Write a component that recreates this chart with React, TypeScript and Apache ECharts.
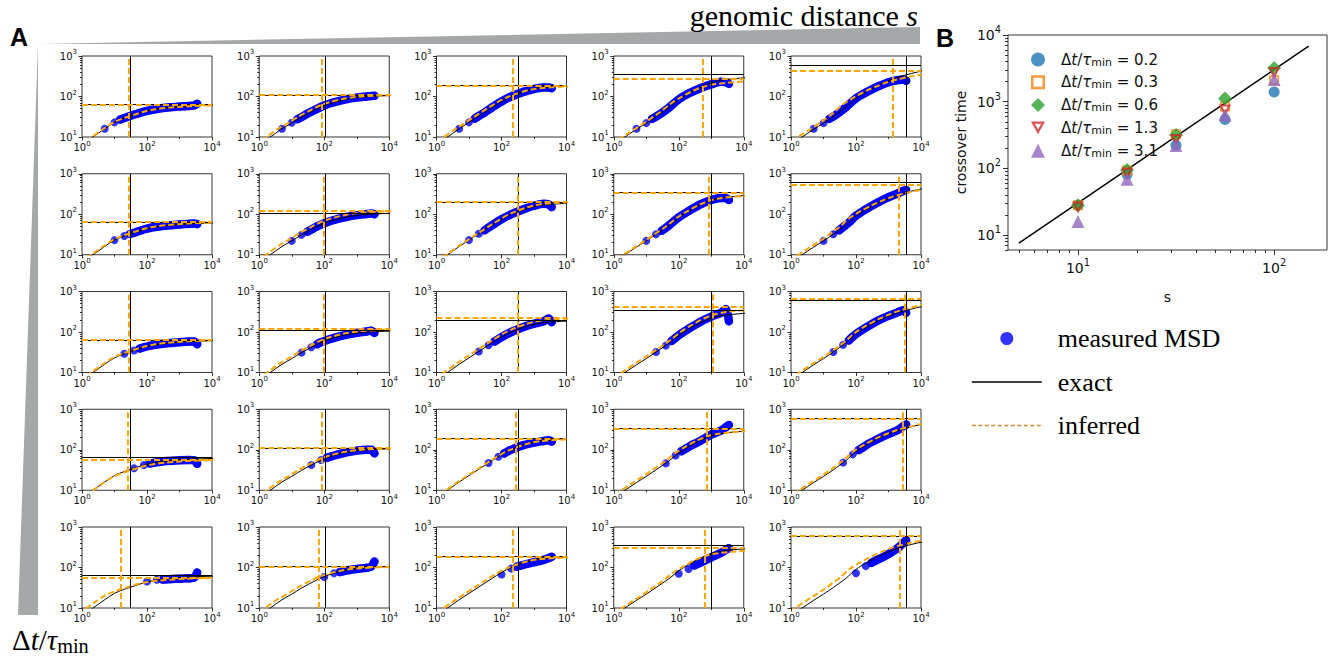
import React, { useEffect, useRef } from 'react';
import * as echarts from 'echarts';

// ---------------- data ----------------
// genomic distances (columns) and Δt/τmin values (rows)
const genomicS = [10, 17.8, 31.6, 56.2, 100];
const dtValues = ['0.2', '0.3', '0.6', '1.3', '3.1'];

// exact MSD curves per column, sampled at curveT
const curveT = [0.3, 1, 2, 5, 10, 20, 50, 100, 200, 500, 1000, 2000, 5000, 10000, 30000, 100000];
const exactMSD = [
  [3.5, 6.5, 9.5, 16, 23, 29, 37, 44, 49, 53.5, 56, 58, 60, 61, 62, 63],
  [3.5, 6.5, 9.5, 16, 22, 31, 46, 60, 72, 86, 94, 99, 103, 105, 106, 107],
  [3.5, 6.5, 9.5, 16, 23, 33, 53, 75, 100, 132, 155, 170, 180, 186, 190, 193],
  [3.5, 6.5, 9.5, 15.5, 22, 32, 53, 83, 118, 175, 220, 252, 275, 288, 308, 325],
  [3.5, 6.5, 9.5, 15.5, 22, 32, 55, 90, 128, 190, 242, 300, 370, 420, 490, 545],
];
const exactTau = [31, 104, 320, 1000, 3400];
const exactPlateau = [64, 108, 195, 345, 600];

// inferred crossover time and plateau [row][col]
const inferredTau = [
  [28, 82, 222, 540, 1400],
  [28, 94, 325, 850, 2100],
  [28, 95, 318, 1120, 3200],
  [26, 84, 268, 740, 2700],
  [16, 69, 220, 630, 2150],
];
const inferredPlateau = [
  [63, 110, 182, 270, 436],
  [65, 121, 207, 335, 530],
  [65, 117, 224, 414, 645],
  [58, 110, 188, 335, 590],
  [57, 105, 183, 300, 610],
];

// measured MSD samples: times per row, values [row][col]
const measuredT = [
  [5, 10, 15, 20, 30, 50, 100, 200, 500, 1000, 2000, 2800, 3500],
  [10, 20, 30, 40, 60, 100, 200, 500, 1000, 2000, 2800, 3500],
  [20, 40, 60, 80, 120, 200, 500, 1000, 2000, 2800, 3500],
  [40, 80, 120, 160, 240, 400, 1000, 2000, 2800, 3500],
  [100, 200, 300, 400, 600, 1000, 2000, 2800, 3500],
];
const measuredMSD = [
  [
    [16, 23, 27, 29.5, 33, 37.5, 44, 49, 54, 56.5, 58.5, 60, 66],
    [16, 22.5, 27.5, 31, 37.5, 46, 60, 72, 86, 94, 100, 103, 104],
    [16, 23, 28.5, 33, 40, 53, 75, 100, 132, 153, 168, 166, 160],
    [16, 22, 28, 32, 39, 53, 85, 118, 165, 200, 230, 226, 205],
    [16, 22, 28, 32, 40, 55, 90, 125, 180, 225, 255, 262, 245],
  ],
  [
    [23, 29, 32.5, 35, 39, 44, 49, 53.5, 56, 58, 59, 57],
    [22, 31, 37, 42, 50, 60, 72, 86, 95, 101, 104, 100],
    [23, 33, 40, 47, 58, 75, 100, 135, 162, 182, 175, 150],
    [22, 32, 39, 46, 60, 84, 120, 180, 225, 252, 250, 225],
    [22, 32, 40, 48, 62, 92, 132, 200, 265, 330, 375, 395],
  ],
  [
    [29, 35, 39, 42, 45.5, 49, 53.5, 56, 58, 58, 50],
    [31, 42, 50, 56, 63, 72, 86, 95, 103, 108, 95],
    [33, 47, 58, 67, 81, 100, 135, 160, 185, 215, 175],
    [32, 46, 60, 72, 92, 120, 185, 240, 300, 370, 185],
    [32, 48, 62, 77, 98, 128, 195, 250, 310, 345, 300],
  ],
  [
    [35, 42, 45.5, 47.5, 50, 52.5, 55, 56, 55, 45],
    [42, 56, 63, 68, 75, 83, 95, 100, 100, 82],
    [47, 67, 81, 92, 107, 125, 150, 165, 172, 160],
    [46, 72, 92, 105, 128, 155, 237, 300, 360, 410],
    [48, 77, 98, 113, 140, 172, 245, 310, 380, 420],
  ],
  [
    [45, 50, 50.5, 51, 52, 53, 54, 56, 75],
    [58, 72, 77, 82, 87, 92, 98, 106, 140],
    [67, 94, 105, 112, 122, 135, 155, 170, 185],
    [70, 92, 112, 125, 145, 178, 230, 275, 300],
    [72, 108, 130, 148, 172, 215, 310, 400, 470],
  ],
];

// exact crossover scaling line in panel B
const crossoverLineS = [5, 150];
const crossoverLineT = [7.6, 6800];

// tick values
const smallXMajor = [1, 100, 10000];
const smallXMinor = [10, 1000];
const smallYMajor = [10, 100, 1000];
const smallYMinor = [20, 30, 40, 50, 60, 70, 80, 90, 200, 300, 400, 500, 600, 700, 800, 900];
const bXMajor = [10, 100];
const bXMinor = [5, 6, 7, 8, 9, 20, 30, 40, 50, 60, 70, 80, 90];
const bYMajor = [10, 100, 1000, 10000];
const bYMinor = [6, 7, 8, 9, 20, 30, 40, 50, 60, 70, 80, 90, 200, 300, 400, 500, 600, 700, 800, 900,
  2000, 3000, 4000, 5000, 6000, 7000, 8000, 9000];

// ---------------- helpers ----------------
const pow10Rich = (v: number) => '{b|10}{s|' + Math.round(Math.log10(v)) + '}';

const bNames = dtValues.map((v) => 'dt=' + v);
const bRichLabel: Record<string, string> = {};
dtValues.forEach((v, i) => {
  bRichLabel[bNames[i]] = `{r|Δ}{i|t}{r|/}{i|τ}{sub|min}{r| = ${v}}`;
});

const squarePath = 'path://M0,0H10V10H0Z M1.8,1.8V8.2H8.2V1.8Z';
const downTriPath = 'path://M0,0L10,0L5,9Z M2.72,1.6L5,5.7L7.28,1.6Z';
const bMarkers = [
  { symbol: 'circle', size: 11, color: '#1f77b4' },
  { symbol: squarePath, size: 10, color: '#ff7f0e' },
  { symbol: 'diamond', size: 14, color: '#2ca02c' },
  { symbol: downTriPath, size: 12, color: '#d62728' },
  { symbol: 'triangle', size: 13, color: '#9467bd' },
];

function tickRich(fs: number) {
  return {
    b: { fontFamily: 'DejaVu Sans', fontSize: fs, lineHeight: fs * 1.5, color: '#111' },
    s: { fontFamily: 'DejaVu Sans', fontSize: fs * 0.7, lineHeight: fs * 0.75, verticalAlign: 'top', color: '#111' },
  };
}

function logAxis(
  gridIndex: number, min: number, max: number, ticks: number[], tickLen: number,
  position: string, label: any | null, extra: any = {}
) {
  return {
    type: 'log', logBase: 10, gridIndex, min, max, position,
    axisLine: { show: false },
    splitLine: { show: false },
    minorTick: { show: false },
    minorSplitLine: { show: false },
    axisTick: { show: true, length: tickLen, customValues: ticks, lineStyle: { color: '#000', width: 0.8 } },
    axisLabel: label ? { show: true, customValues: ticks, formatter: pow10Rich, ...label } : { show: false },
    ...extra,
  };
}

function buildOption() {
  const grid: any[] = [];
  const xAxis: any[] = [];
  const yAxis: any[] = [];
  const series: any[] = [];
  const smallRich = tickRich(10);

  for (let r = 0; r < 5; r++) {
    for (let c = 0; c < 5; c++) {
      const g = r * 5 + c;
      grid.push({
        left: 82 + c * 177.25, top: 56 + r * 117.75, width: 130, height: 81,
        show: true, borderColor: '#000', borderWidth: 0.8, backgroundColor: 'transparent',
      });
      xAxis.push(logAxis(g, 1, 10000, smallXMajor, 3.5, 'bottom', { rich: smallRich, margin: 3 }));
      xAxis.push(logAxis(g, 1, 10000, smallXMinor, 2, 'bottom', null));
      yAxis.push(logAxis(g, 10, 1000, smallYMajor, 3.5, 'left', { rich: smallRich, margin: 5 }));
      yAxis.push(logAxis(g, 10, 1000, smallYMinor, 2, 'left', null));
      const xi = 2 * g;
      const yi = 2 * g;
      const T = measuredT[r];
      const M = measuredMSD[r][c];
      const te = exactTau[c], pe = exactPlateau[c];
      const ti = inferredTau[r][c], pi = inferredPlateau[r][c];

      series.push({
        type: 'line', name: 'measured band', xAxisIndex: xi, yAxisIndex: yi,
        data: T.slice(2).map((t, k) => [t, M[k + 2]]),
        symbol: 'none', smooth: 0.3, silent: true, z: 2,
        lineStyle: { color: '#0000ff', width: 8.5, cap: 'round', join: 'round' },
      });
      series.push({
        type: 'scatter', name: 'measured MSD', xAxisIndex: xi, yAxisIndex: yi,
        data: T.map((t, k) => [t, M[k]]),
        symbol: 'circle', symbolSize: 8, silent: true, z: 2,
        itemStyle: { color: '#0000ff' },
      });
      series.push({
        type: 'line', name: 'exact', xAxisIndex: xi, yAxisIndex: yi,
        data: curveT.map((t, k) => [t, exactMSD[c][k]]),
        symbol: 'none', smooth: 0.3, silent: true, z: 3,
        lineStyle: { color: '#000', width: 1 },
        markLine: {
          silent: true, symbol: ['none', 'none'], label: { show: false },
          lineStyle: { color: '#000', width: 1, type: 'solid' },
          data: [{ yAxis: pe }, { xAxis: te }],
        },
      });
      series.push({
        type: 'line', name: 'inferred', xAxisIndex: xi, yAxisIndex: yi,
        data: curveT.map((t, k) => [(t * ti) / te, (exactMSD[c][k] * pi) / pe]),
        symbol: 'none', smooth: 0.3, silent: true, z: 4,
        lineStyle: { color: '#ffa500', width: 2, type: [6, 3] },
        markLine: {
          silent: true, symbol: ['none', 'none'], label: { show: false },
          lineStyle: { color: '#ffa500', width: 2, type: [6, 3] },
          data: [{ yAxis: pi }, { xAxis: ti }],
        },
      });
    }
  }

  // ----- panel B -----
  const gb = 25;
  grid.push({
    left: 1008, top: 35, width: 319, height: 215,
    show: true, borderColor: '#000', borderWidth: 0.8, backgroundColor: 'transparent',
  });
  const bRich = tickRich(14);
  const nameStyle = { fontFamily: 'DejaVu Sans', fontSize: 14, color: '#111' };
  xAxis.push(logAxis(gb, 4.4, 186, bXMajor, 5, 'bottom', { rich: bRich, margin: 7 }, {
    name: 's', nameLocation: 'middle', nameGap: 40, nameTextStyle: nameStyle,
  }));
  xAxis.push(logAxis(gb, 4.4, 186, bXMinor, 3, 'bottom', null));
  yAxis.push(logAxis(gb, 6, 10000, bYMajor, 5, 'left', { rich: bRich, margin: 7 }, {
    name: 'crossover time', nameLocation: 'middle', nameGap: 40, nameTextStyle: nameStyle,
  }));
  yAxis.push(logAxis(gb, 6, 10000, bYMinor, 3, 'left', null));

  series.push({
    type: 'line', name: 'exact crossover', xAxisIndex: 50, yAxisIndex: 50,
    data: crossoverLineS.map((s, k) => [s, crossoverLineT[k]]),
    symbol: 'none', silent: true, z: 2,
    lineStyle: { color: '#000', width: 1.5 },
  });
  bMarkers.forEach((m, r) => {
    series.push({
      type: 'scatter', name: bNames[r], xAxisIndex: 50, yAxisIndex: 50,
      data: genomicS.map((s, k) => [s, inferredTau[r][k]]),
      symbol: m.symbol, symbolSize: m.size, silent: true, z: 3 + r,
      itemStyle: { color: m.color },
    });
  });

  const richB = {
    r: { fontFamily: 'DejaVu Sans', fontSize: 15, lineHeight: 16, color: '#111' },
    i: { fontFamily: 'DejaVu Sans', fontStyle: 'italic', fontSize: 15, lineHeight: 16, color: '#111' },
    sub: { fontFamily: 'DejaVu Sans', fontSize: 11, lineHeight: 10, verticalAlign: 'bottom', color: '#111' },
  };

  const serif = (fs: number) => ({
    r: { fontFamily: 'Liberation Serif', fontSize: fs, lineHeight: fs * 1.1, color: '#000' },
    i: { fontFamily: 'Liberation Serif', fontStyle: 'italic', fontSize: fs, lineHeight: fs * 1.1, color: '#000' },
    sub: { fontFamily: 'Liberation Serif', fontSize: fs * 0.7, lineHeight: fs * 0.7, verticalAlign: 'bottom', color: '#000' },
  });

  return {
    animation: false,
    backgroundColor: '#fff',
    grid, xAxis, yAxis, series,
    legend: [
      {
        data: bNames, orient: 'vertical', left: 1026, top: 47,
        itemWidth: 14, itemHeight: 14, itemGap: 7.3, selectedMode: false,
        formatter: (name: string) => bRichLabel[name],
        textStyle: { rich: richB, padding: [0, 0, 0, 11], fontFamily: 'DejaVu Sans', fontSize: 15 },
      },
      {
        data: [
          { name: 'measured MSD' },
          { name: 'exact', lineStyle: { width: 1.5, color: '#000' }, itemStyle: { opacity: 0 } },
          { name: 'inferred', lineStyle: { width: 1.6, color: '#d4892b', type: [4, 2.5] }, itemStyle: { opacity: 0 } },
        ],
        orient: 'vertical', left: 966, top: 320,
        itemWidth: 70, itemHeight: 13, itemGap: 16.5, selectedMode: false,
        textStyle: { fontFamily: 'Liberation Serif', fontSize: 26, lineHeight: 27, color: '#000', padding: [0, 0, 0, 11] },
      },
    ],
    graphic: [
      { type: 'polygon', silent: true, shape: { points: [[40, 44], [920, 44], [920, 27]] }, style: { fill: '#a4a8a8' } },
      { type: 'polygon', silent: true, shape: { points: [[38, 44], [38, 615], [18, 615]] }, style: { fill: '#a4a8a8' } },
      { type: 'text', silent: true, x: 10, y: 37, style: { text: 'A', fontFamily: 'Liberation Sans', fontWeight: 'bold', fontSize: 25, fill: '#000', verticalAlign: 'middle' } },
      { type: 'text', silent: true, x: 936, y: 38, style: { text: 'B', fontFamily: 'Liberation Sans', fontWeight: 'bold', fontSize: 25, fill: '#000', verticalAlign: 'middle' } },
      { type: 'text', silent: true, x: 918, y: 15, style: { text: '{r|genomic distance }{i|s}', rich: serif(30), align: 'right', verticalAlign: 'middle' } },
      { type: 'text', silent: true, x: 12, y: 640, style: { text: '{r|Δ}{i|t}{r|/}{i|τ}{sub|min}', rich: serif(29), align: 'left', verticalAlign: 'middle' } },
    ],
  };
}

export default function App() {
  const ref = useRef<HTMLDivElement>(null);
  useEffect(() => {
    if (!ref.current) return;
    const chart = echarts.init(ref.current, undefined, { renderer: 'svg' });
    chart.setOption(buildOption() as any);
    return () => chart.dispose();
  }, []);
  return (
    <div
      ref={ref}
      style={{ position: 'absolute', left: 0, top: 0, width: 1337, height: 660, background: '#fff' }}
    />
  );
}
